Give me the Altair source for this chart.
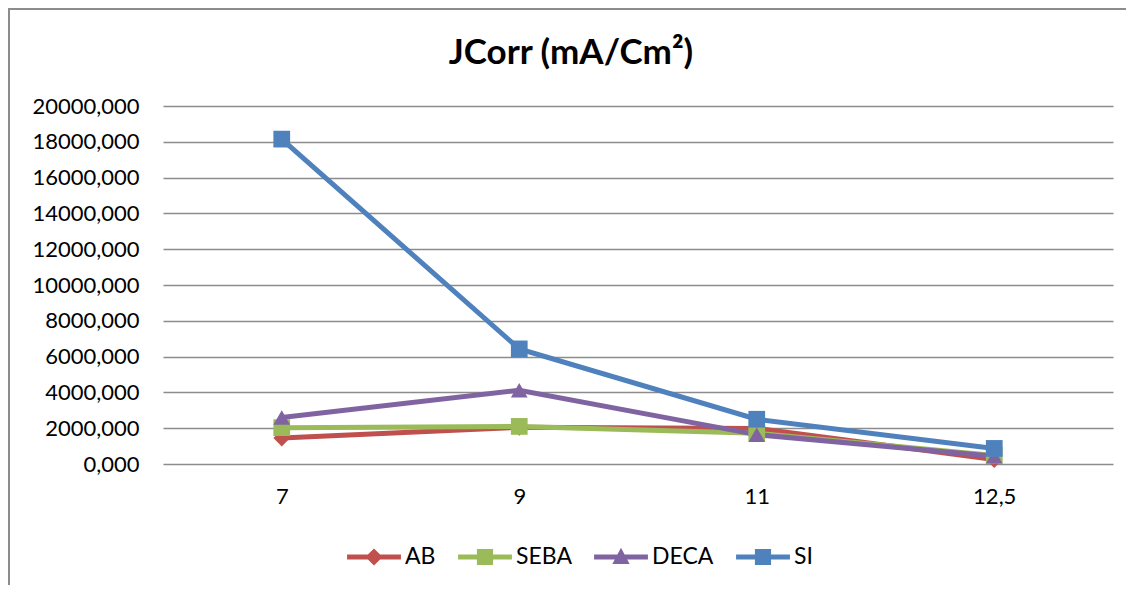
import altair as alt
import pandas as pd

categories = ["7", "9", "11", "12,5"]
series = ["AB", "SEBA", "DECA", "SI"]
ab = [1450, 2050, 1990, 250]
seba = [2030, 2100, 1720, 480]
deca = [2600, 4120, 1640, 430]
si = [18150, 6430, 2500, 870]
colors = ["#C0504D", "#9BBB59", "#8064A2", "#4F81BD"]
shapes = ["diamond", "square", "triangle-up", "square"]
y_ticks = list(range(0, 20001, 2000))

rows = []
for name, vals in zip(series, [ab, seba, deca, si]):
    for c, v in zip(categories, vals):
        rows.append({"pH": c, "series": name, "value": v})
df = pd.DataFrame(rows)

FONT = "Lato"

# legend symbols: line + marker
line_part = "M-1,-0.09 L1,-0.09 L1,0.09 L-1,0.09 Z "
legend_paths = [
    line_part + "M0,-0.32 L0.32,0 L0,0.32 L-0.32,0 Z",
    line_part + "M-0.3,-0.3 L0.3,-0.3 L0.3,0.3 L-0.3,0.3 Z",
    line_part + "M0,-0.34 L0.32,0.26 L-0.32,0.26 Z",
    line_part + "M-0.3,-0.3 L0.3,-0.3 L0.3,0.3 L-0.3,0.3 Z",
]

x_enc = alt.X(
    "pH:N",
    sort=categories,
    scale=alt.Scale(domain=categories, padding=0.5),
    axis=alt.Axis(title=None, labelAngle=0, ticks=False, domain=False,
                  labelPadding=22, labelFontSize=22, labelFont=FONT,
                  labelColor="#000000", grid=False),
)
y_enc = alt.Y(
    "value:Q",
    scale=alt.Scale(domain=[0, 20000], nice=False),
    axis=alt.Axis(title=None, values=y_ticks, ticks=False, domain=False,
                  labelPadding=24, labelFontSize=22, labelFont=FONT,
                  labelColor="#000000", grid=True, gridColor="#8c8c8c",
                  gridWidth=1.5,
                  labelExpr="replace(format(datum.value, '.3f'), '.', ',')"),
)

base = alt.Chart(df)
frame_src = alt.Chart(pd.DataFrame({"f": [0]}))

frame_left = frame_src.mark_rule(stroke="#8c8c8c", strokeWidth=2).encode(
    x=alt.value(-154), y=alt.value(-98), y2=alt.value(480)
)
frame_top = frame_src.mark_rule(stroke="#8c8c8c", strokeWidth=2).encode(
    x=alt.value(-155), x2=alt.value(963), y=alt.value(-97)
)

lines = base.mark_line(strokeWidth=5).encode(
    x=x_enc, y=y_enc,
    color=alt.Color("series:N", sort=series,
                    scale=alt.Scale(domain=series, range=colors), legend=None),
    detail="series:N",
)

points = base.mark_point(filled=True, opacity=1, size=280).encode(
    x=x_enc, y=y_enc,
    color=alt.Color("series:N", sort=series,
                    scale=alt.Scale(domain=series, range=colors), legend=None),
    shape=alt.Shape("series:N", sort=series,
                    scale=alt.Scale(domain=series, range=shapes), legend=None),
)

legend_layer = base.transform_filter("false").mark_point(filled=True, opacity=1).encode(
    x=x_enc, y=y_enc,
    color=alt.Color("series:N", sort=series, title=None,
                    scale=alt.Scale(domain=series, range=colors),
                    legend=alt.Legend(orient="none", legendX=184, legendY=424,
                                      direction="horizontal", columns=4,
                                      symbolSize=2900, symbolStrokeWidth=0,
                                      labelFont=FONT, labelFontSize=23,
                                      labelColor="#000000", columnPadding=22,
                                      labelOffset=4, padding=0)),
    shape=alt.Shape("series:N", sort=series, title=None,
                    scale=alt.Scale(domain=series, range=legend_paths)),
)

chart = alt.layer(frame_left, frame_top, lines, points, legend_layer).resolve_scale(
    color="independent", shape="independent"
).properties(
    width=950,
    height=358,
    padding={"left": 155, "top": 98, "right": 13, "bottom": 121},
    autosize=alt.AutoSizeParams(type="none"),
    title=alt.TitleParams("JCorr (mA/Cm²)", font=FONT, fontSize=35,
                          fontWeight="bold", color="#000000",
                          anchor="middle", frame="group", dx=-67, offset=-64),
    background="white",
).configure_view(stroke=None)

chart.save("out.html", embed_options={"renderer": "svg", "actions": False})
